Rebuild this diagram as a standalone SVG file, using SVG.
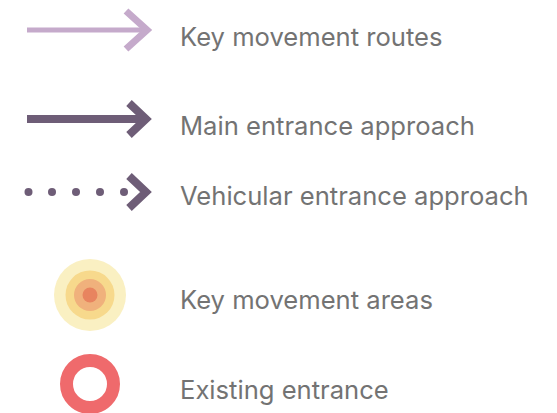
<svg xmlns="http://www.w3.org/2000/svg" width="557" height="413" viewBox="0 0 557 413">
  <style>
    .label { font-family: Inter, "Liberation Sans", sans-serif; font-size: 25.6px; fill: #737373; }
    .chev { fill: none; stroke-linecap: butt; stroke-linejoin: miter; }
  </style>
  <rect width="557" height="413" fill="#ffffff"/>
  <g id="connectors">
    <!-- key movement routes -->
    <g id="key-routes">
      <line x1="27" y1="30" x2="146" y2="30" stroke="#c5aacb" stroke-width="5"/>
      <polyline class="chev" points="126,11 147,30 126,49" stroke="#c5aacb" stroke-width="7"/>
    </g>
    <!-- main entrance approach -->
    <g id="main-approach">
      <line x1="27" y1="119" x2="146" y2="119" stroke="#6e5d77" stroke-width="8"/>
      <polyline class="chev" points="129,103 146,119 129,135" stroke="#6e5d77" stroke-width="8"/>
    </g>
    <!-- vehicular entrance approach -->
    <g id="vehicular-approach" fill="#6e5d77">
      <circle cx="28.5" cy="192" r="4"/>
      <circle cx="52" cy="192" r="4"/>
      <circle cx="76" cy="192" r="4"/>
      <circle cx="100" cy="192" r="4"/>
      <circle cx="124" cy="192" r="4"/>
      <polyline class="chev" points="129,176 146,192 129,208" stroke="#6e5d77" stroke-width="8"/>
    </g>
  </g>
  <g id="key-areas">
    <circle cx="90" cy="295" r="36" fill="#faf0c2"/>
    <circle cx="90" cy="295" r="24.5" fill="#f7d98c"/>
    <circle cx="90" cy="295" r="16" fill="#f0b17c"/>
    <circle cx="90" cy="295" r="7.5" fill="#e8845f"/>
  </g>
  <g id="existing-entrance">
    <circle cx="90" cy="384" r="23.5" fill="none" stroke="#ef6a6c" stroke-width="13"/>
  </g>
  <g id="labels">
    <text class="label" x="180" y="46">Key movement routes</text>
    <text class="label" x="180" y="135">Main entrance approach</text>
    <text class="label" x="180" y="205">Vehicular entrance approach</text>
    <text class="label" x="180" y="309">Key movement areas</text>
    <text class="label" x="180" y="399">Existing entrance</text>
  </g>
</svg>
